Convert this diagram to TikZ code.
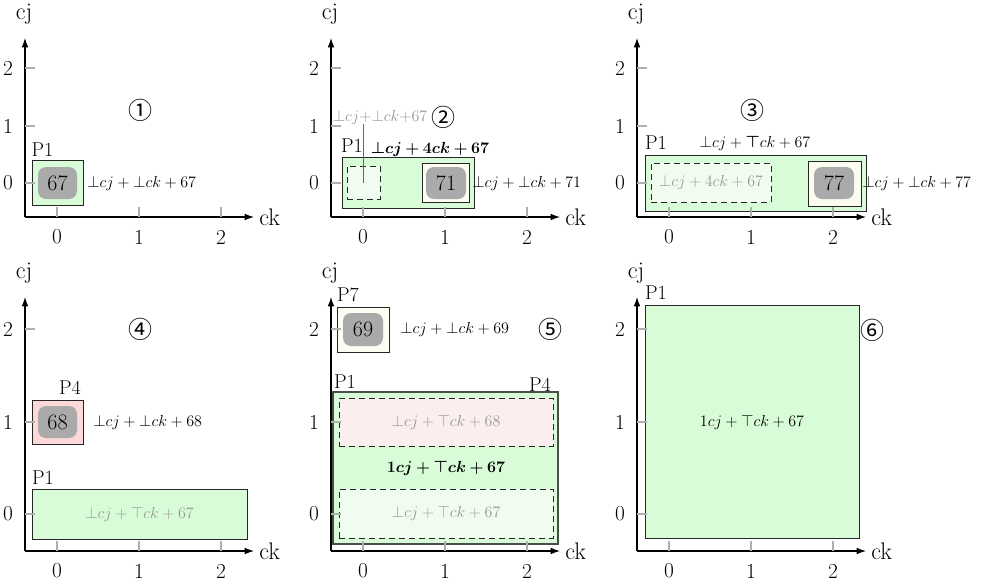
\documentclass[tikz,border=0pt]{standalone}
\usepackage{amsmath}
\usepackage{fontspec}
\newfontfamily\circfont{Noto Sans CJK SC}
\usetikzlibrary{arrows.meta,fit}
\definecolor{pgreen}{RGB}{216,252,216}
\definecolor{ppink}{RGB}{252,216,216}
\definecolor{pcream}{RGB}{253,252,240}
\definecolor{lgreen}{RGB}{241,252,241}
\definecolor{lpink}{RGB}{251,238,238}
\definecolor{rgray}{RGB}{170,170,170}
\definecolor{tgray}{RGB}{150,150,150}
\definecolor{tickgray}{RGB}{175,175,175}
\tikzset{
  axisline/.style={line width=0.8pt, -{Latex[length=7pt,width=5pt]}},
  tickm/.style={draw=tickgray, line width=0.8pt},
  axlab/.style={font=\fontsize{18}{20}\selectfont, inner sep=0},
  ticklab/.style={font=\fontsize{16}{18}\selectfont, inner sep=0},
  plab/.style={font=\fontsize{15}{17}\selectfont, inner sep=0},
  form/.style={font=\fontsize{12}{14}\selectfont, inner sep=0},
  circ/.style={font=\circfont\fontsize{18}{20}\selectfont, inner sep=0},
  numt/.style={font=\fontsize{16.5}{18}\selectfont, inner sep=0},
  gbox/.style={draw=black!85, line width=0.75pt, fill=pgreen, inner sep=0},
  pkbox/.style={gbox, fill=ppink},
  crbox/.style={gbox, fill=pcream},
  dgbox/.style={draw=black!85, dashed, dash pattern=on 4.5pt off 3pt, line width=0.75pt, fill=lgreen, inner sep=0},
  dpbox/.style={dgbox, fill=lpink},
  rbox/.style={fill=rgray, rounded corners=6pt, inner sep=0},
  gtext/.style={text=tgray},
  pinline/.style={draw=black!60, line width=0.6pt},
}
\newcommand\panelaxes[7]{%
  \coordinate (#1o) at ({#2+25},#3);
  \coordinate (#1xe) at ({#2+254},#3);
  \coordinate (#1ye) at ({#2+25},#4);
  \draw[axisline] (#1o) -- (#1xe);
  \draw[axisline] (#1o) -- (#1ye);
  \node[axlab, anchor=west] (#1ck) at ({#2+259},#3) {ck};
  \node[axlab] (#1cj) at ({#2+24},{#4-24}) {cj};
  \foreach \i/\xx in {0/57,1/139,2/221} {
    \draw[tickm] ({#2+\xx},#3) -- ++(0,-10);
    \node[ticklab] (#1tx\i) at ({#2+\xx},{#3+20}) {\i};
  }
  \foreach \i/\yy in {0/#5,1/#6,2/#7} {
    \draw[tickm] ({#2+25},\yy) -- ++(10,0);
    \node[ticklab] (#1ty\i) at ({#2+8},\yy) {\i};
  }
}
\begin{document}
\begin{tikzpicture}[x=0.75pt,y=-0.75pt]
\useasboundingbox (0,0) rectangle (985,586);
% ---------- Panel 1
\node[gbox, fit={(32,160) (83,205)}] (p1a) {};
\node[rbox, fit={(38,167) (77,199)}] (r67) {};
\node[numt] (r67t) at (r67.center) {67};
\node[plab] (p1aL) at (42.5,150) {P1};
\node[form, anchor=west] (f1) at (87,183) {$\bot cj + \bot ck + 67$};
\node[circ] (c1) at (140,110) {①};
% ---------- Panel 2
\node[gbox, fit={(342,157) (474,208)}] (p2a) {};
\node[dgbox, fit={(347,166) (380,199)}] (d2) {};
\node[crbox, fit={(422,163) (469,202)}] (c2) {};
\node[rbox, fit={(426,167) (466,199)}] (r71) {};
\node[numt] (r71t) at (r71.center) {71};
\node[plab] (p2aL) at (352,146) {P1};
\node[form] (f2a) at (430,149) {$\boldsymbol{\bot} \boldsymbol{c}\boldsymbol{j} \boldsymbol{+} \boldsymbol{4}\boldsymbol{c}\boldsymbol{k} \boldsymbol{+} \boldsymbol{67}$};
\node[form, anchor=west] (f2b) at (472,183) {$\bot cj + \bot ck + 71$};
\node[form, gtext] (f2c) at (380,117) {$\bot cj{+}\bot ck{+}67$};
\draw[pinline] (d2.center) -- (d2.center |- f2c.south);
\node[circ] (c2n) at (443,117) {②};
% ---------- Panel 3
\node[gbox, fit={(645,155) (866,211)}] (p3a) {};
\node[dgbox, fit={(651,163) (771,202)}] (d3) {};
\node[form, gtext] (d3t) at (d3.center) {$\bot cj + 4ck + 67$};
\node[crbox, fit={(808,161) (861,206)}] (c3) {};
\node[rbox, fit={(814,167) (854,199)}] (r77) {};
\node[numt] (r77t) at (r77.center) {77};
\node[plab] (p3aL) at (656,143) {P1};
\node[form] (f3a) at (755,143) {$\bot cj + \boldsymbol{\top} ck + 67$};
\node[form, anchor=west] (f3b) at (862,183) {$\bot cj + \bot ck + 77$};
\node[circ] (c3n) at (752,110) {③};
% ---------- Panel 4
\node[pkbox, fit={(32,400) (83,444)}] (p4b) {};
\node[rbox, fit={(38,406) (77,438)}] (r68) {};
\node[numt] (r68t) at (r68.center) {68};
\node[plab] (p4bL) at (70,388) {P4};
\node[form, anchor=west] (f4b) at (93,422) {$\bot cj + \bot ck + 68$};
\node[gbox, fit={(32,489) (247,539)}] (p4a) {};
\node[form, gtext] (p4at) at (p4a.center) {$\bot cj + \top ck + 67$};
\node[plab] (p4aL) at (43,478) {P1};
\node[circ] (c4n) at (140,329) {④};
% ---------- Panel 5
\node[crbox, fit={(337,307) (389,352)}] (p5c) {};
\node[rbox, fit={(343,313) (383,346)}] (r69) {};
\node[numt] (r69t) at (r69.center) {69};
\node[plab] (p5cL) at (348,295) {P7};
\node[form, anchor=west] (f5c) at (400,329) {$\bot cj + \bot ck + 69$};
\node[circ] (c5n) at (550,329) {⑤};
\node[gbox, draw=black!70, line width=1.1pt, fit={(333,392) (558,544)}] (p5a) {};
\node[dpbox, fit={(339,398) (553,446)}] (d5a) {};
\node[form, gtext] (d5at) at (d5a.center) {$\bot cj + \top ck + 68$};
\node[form] (f5a) at (446,468) {$\boldsymbol{1}\boldsymbol{c}\boldsymbol{j} \boldsymbol{+} \boldsymbol{\top}\boldsymbol{c}\boldsymbol{k} \boldsymbol{+} \boldsymbol{67}$};
\node[dgbox, fit={(339,489) (553,538)}] (d5b) {};
\node[form, gtext] (d5bt) at (d5b.center) {$\bot cj + \top ck + 67$};
\node[plab] (p5aL) at (345,382) {P1};
\node[plab] (p5bL) at (540,385) {P4};
% ---------- Panel 6
\node[gbox, fit={(645,305) (859,538)}] (p6a) {};
\node[form] (p6at) at (752,422) {$1cj + \top ck + 67$};
\node[plab] (p6aL) at (656,293) {P1};
\node[circ] (c6n) at (872,330) {⑥};
% ---------- Axes
\panelaxes{a}{0}{217}{38}{183}{126}{68}
\panelaxes{b}{306}{217}{38}{183}{126}{68}
\panelaxes{c}{612}{217}{38}{183}{126}{68}
\panelaxes{d}{0}{551}{297}{514}{422}{329}
\panelaxes{e}{306}{551}{297}{514}{422}{329}
\panelaxes{f}{612}{551}{297}{514}{422}{329}
\end{tikzpicture}
\end{document}
